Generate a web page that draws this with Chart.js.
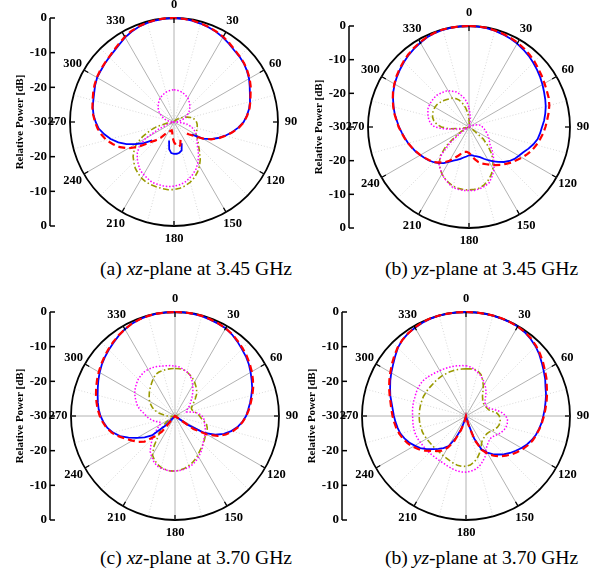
<!DOCTYPE html>
<html>
<head>
<meta charset="utf-8">
<script src="https://cdn.jsdelivr.net/npm/chart.js@4.4.1/dist/chart.umd.min.js"></script>
<style>
  body { margin: 0; background: #fff; }
  #page { position: relative; width: 591px; height: 578px; overflow: hidden; background: #fff; }
  canvas { position: absolute; }
  .caption {
    position: absolute;
    font-family: "Liberation Serif", "Times New Roman", serif;
    font-size: 19.6px;
    line-height: 22px;
    color: #000;
    white-space: nowrap;
  }
</style>
</head>
<body>
<div id="page">
  <canvas id="chart-a" width="300" height="250" style="left:0px;top:0px"></canvas>
  <canvas id="chart-b" width="291" height="250" style="left:300px;top:0px"></canvas>
  <canvas id="chart-c" width="300" height="262" style="left:0px;top:284px"></canvas>
  <canvas id="chart-d" width="291" height="262" style="left:300px;top:284px"></canvas>
  <div class="caption" style="left:100px;top:258px">(a) <i>xz</i>-plane at 3.45 GHz</div>
  <div class="caption" style="left:385px;top:258px">(b) <i>yz</i>-plane at 3.45 GHz</div>
  <div class="caption" style="left:100px;top:547px">(c) <i>xz</i>-plane at 3.70 GHz</div>
  <div class="caption" style="left:385px;top:547px">(b) <i>yz</i>-plane at 3.70 GHz</div>
</div>
<script>
// angles every 5 degrees, 0 at top, clockwise
const angles = [];
for (let a = 0; a < 360; a += 5) angles.push(a);

const angleTicks = [0, 30, 60, 90, 120, 150, 180, 210, 240, 270, 300, 330];
const dbTicks = [0, -10, -20, -30];

// relative power [dB], one value per 5 degrees (null = not drawn)
const xz345Blue = [0, -0.1, -0.3, -0.6, -0.9, -1.3, -1.8, -2.4, -3.0, -3.3, -3.7, -4.3,
  -5.0, -5.9, -6.7, -7.3, -8.0, -8.9, -9.9, -11.4, -13.0, -14.7, -16.5, -18.3,
  -20.4, -23.8, null, null, null, null, null, null, -23.5, -21.5, -21.0, -20.8,
  -20.8, -21.0, -22.0, -24.5, null, null, null, null, null, null, -21.8, -19.4,
  -17.3, -14.9, -12.9, -11.1, -9.6, -8.2, -7.4, -6.7, -6.2, -5.9, -5.5, -4.9,
  -4.4, -4.2, -3.9, -3.6, -3.2, -2.6, -1.8, -1.2, -0.7, -0.4, -0.2, -0.05];
const xz345Red = [0, -0.1, -0.2, -0.5, -0.8, -1.2, -1.6, -2.2, -2.8, -3.2, -3.6, -4.2,
  -4.8, -5.6, -6.5, -7.2, -7.9, -8.8, -9.8, -11.2, -12.9, -14.6, -16.3, -18.2,
  -20.5, -23.0, -24.5, -26.0, null, null, null, null, -24.5, -23.0, -22.8, -23.3,
  -24.2, -25.5, -27.0, -27.5, -27.3, -27.0, -26.5, -26.0, -24.0, -22.5, -20.8, -17.5,
  -14.8, -12.8, -11.3, -9.8, -8.8, -7.9, -7.2, -6.6, -6.1, -5.7, -5.2, -4.7,
  -4.3, -4.0, -3.8, -3.5, -3.0, -2.4, -1.6, -1.0, -0.6, -0.3, -0.1, 0];
const xz345Magenta = [-20.7, -20.8, -20.9, -21.1, -21.4, -21.7, -22.0, -22.5, -23.0, -23.5, -24.1, -24.7,
  -25.4, -26.1, -26.8, -27.6, -28.4, -29.2, -30, -27.5, -26.0, -25.0, -24.0, -23.2,
  -22.5, -22.0, -21.3, -20.5, -19.1, -17.7, -16.3, -15.0, -14.0, -13.1, -12.3, -11.8,
  -11.5, -11.3, -11.3, -11.4, -11.5, -12.0, -12.5, -13.0, -14.0, -15.0, -16.2, -17.8,
  -20.5, -25.0, -28.0, -30, -30, -30, -30, -29.2, -28.4, -27.6, -26.8, -26.1,
  -25.4, -24.7, -24.1, -23.5, -23.0, -22.5, -22.0, -21.7, -21.4, -21.1, -20.9, -20.8];
const xz345Olive = [-30, -30, -30, -30, -30, -30, -30, -30, -29.5, -29.0, -28.6, -28.2,
  -27.6, -26.8, -25.9, -25.0, -24.3, -23.8, -23.5, -23.3, -23.2, -23.1, -23.0, -22.9,
  -22.6, -21.8, -20.9, -19.9, -18.5, -16.8, -15.3, -14.0, -12.9, -12.0, -11.3, -10.8,
  -10.5, -10.4, -10.5, -10.6, -10.7, -10.9, -11.3, -11.9, -12.6, -13.6, -14.6, -16.0,
  -17.5, -20.0, -22.5, -24.8, -27.8, -30, -30, -30, -30, -30, -30, -30,
  -30, -30, -30, -30, -30, -30, -30, -30, -30, -30, -30, -30];

const yz345Blue = [0, -0.1, -0.2, -0.4, -0.7, -1.0, -1.4, -1.9, -2.4, -3.0, -3.6, -4.2,
  -4.8, -5.4, -5.9, -6.4, -7.0, -7.6, -8.3, -8.8, -9.3, -10.2, -11.2, -12.2,
  -12.9, -13.5, -14.3, -15.3, -16.5, -17.5, -18.6, -19.6, -20.5, -21.0, -21.3, -21.6,
  -21.6, -21.2, -20.8, -20.2, -19.6, -19.0, -18.0, -16.9, -16.0, -15.2, -14.5, -13.9,
  -13.3, -12.6, -12.0, -11.3, -10.7, -10.0, -9.2, -8.5, -7.6, -6.8, -6.0, -5.2,
  -4.5, -3.9, -3.3, -2.7, -2.1, -1.6, -1.1, -0.6, -0.3, -0.1, 0, 0];
const yz345Red = [0, 0, -0.1, -0.3, -0.5, -0.8, -1.1, -1.5, -2.0, -2.5, -3.1, -3.6,
  -4.1, -4.5, -4.8, -5.3, -6.0, -6.7, -7.3, -7.9, -8.6, -9.3, -10.0, -10.9,
  -11.8, -12.8, -13.6, -14.5, -15.3, -16.2, -17.0, -17.8, -18.4, -19.2, -20.3, -21.5,
  -22.3, -22.6, -22.5, -22.0, -21.0, -19.8, -18.4, -17.2, -16.2, -15.3, -14.6, -14.0,
  -13.3, -12.7, -12.0, -11.3, -10.6, -9.9, -9.1, -8.4, -7.5, -6.7, -5.9, -5.1,
  -4.4, -3.7, -3.1, -2.5, -1.9, -1.4, -0.9, -0.5, -0.2, 0, 0, 0];
const yz345Magenta = [-24.3, -26.2, -28.0, -29.5, -30, -30, -30, -30, -30, -30, -30, -30,
  -30, -29.5, -28.5, -27.5, -26.8, -26.2, -26.0, -25.6, -25.2, -24.8, -24.3, -23.7,
  -23.2, -22.6, -21.8, -20.3, -18.8, -17.0, -15.2, -13.8, -12.4, -11.8, -11.4, -11.1,
  -11.1, -11.1, -11.2, -11.4, -12.2, -13.0, -13.9, -15.0, -16.0, -18.5, -22.5, -26.7,
  -29.5, -30, -29.0, -27.5, -26.8, -23.0, -19.8, -18.6, -17.9, -17.4, -17.0, -16.6,
  -16.5, -16.5, -16.5, -16.6, -16.9, -17.2, -17.5, -18.3, -18.9, -20.0, -21.2, -22.5];
const yz345Olive = [-27.5, -29.0, -30, -30, -30, -30, -30, -30, -30, -30, -30, -30,
  -30, -30, -30, -30, -30, -30, -30, -30, -30, -30, -30, -30,
  -30, -28.5, -24.5, -22.0, -19.5, -17.6, -15.8, -14.4, -13.2, -12.3, -11.6, -11.4,
  -11.3, -11.3, -11.5, -11.8, -12.4, -13.1, -13.9, -15.0, -16.3, -18.0, -21.0, -25.0,
  -27.5, -29.5, -30, -29.5, -27.5, -24.0, -21.8, -20.4, -19.4, -18.8, -18.5, -18.3,
  -18.3, -18.4, -18.7, -19.0, -19.4, -19.8, -20.1, -20.7, -21.5, -22.8, -24.2, -25.8];

const xz370Blue = [0, 0, -0.1, -0.2, -0.4, -0.6, -0.8, -1.3, -2.0, -2.7, -3.3, -4.0,
  -4.8, -5.6, -6.3, -7.2, -8.0, -8.8, -9.5, -10.5, -11.7, -13.2, -15.0, -17.2,
  -20.3, -25.8, -30, -30, -30, -30, -30, -30, -30, -30, -30, -30,
  -30, -30, -30, -30, -30, -30, -30, -30, -30, -26.0, -21.3, -19.3,
  -17.4, -15.2, -13.1, -11.5, -10.2, -9.3, -8.5, -7.9, -7.4, -6.9, -6.3, -5.6,
  -4.9, -4.2, -3.6, -3.0, -2.4, -1.7, -1.1, -0.6, -0.3, -0.1, 0, 0];
const xz370Red = [0, 0, 0, -0.1, -0.3, -0.5, -0.8, -1.2, -1.8, -2.4, -3.0, -3.7,
  -4.4, -5.2, -6.0, -6.9, -7.8, -8.6, -9.4, -10.4, -11.5, -12.8, -14.4, -16.4,
  -19.3, -23.5, -30, -30, -30, -30, -30, -30, -30, -30, -30, -30,
  -30, -30, -30, -30, -30, -30, -30, -30, -24.0, -21.5, -18.5, -17.0,
  -15.8, -14.4, -12.8, -11.2, -10.0, -9.1, -8.3, -7.6, -7.0, -6.4, -5.8, -5.2,
  -4.6, -4.0, -3.4, -2.8, -2.2, -1.6, -1.1, -0.6, -0.3, -0.1, 0, 0];
const xz370Magenta = [-15.6, -15.8, -16.3, -16.8, -17.4, -18.5, -19.8, -21.0, -22.2, -23.3, -24.2, -25.0,
  -25.8, -26.3, -26.5, -25.5, -24.0, -23.0, -22.2, -21.7, -21.4, -21.2, -20.8, -20.3,
  -19.9, -19.6, -19.2, -18.6, -17.8, -17.1, -16.4, -15.7, -15.1, -14.7, -14.4, -14.2,
  -14.1, -14.1, -14.2, -14.4, -14.7, -15.5, -16.5, -17.5, -19.2, -20.8, -22.5, -23.8,
  -25.0, -25.5, -25.0, -24.0, -23.3, -22.4, -21.7, -21.0, -19.8, -18.8, -18.1, -17.3,
  -16.6, -16.0, -15.5, -15.0, -14.7, -14.5, -14.5, -14.6, -14.8, -15.1, -15.3, -15.4];
const xz370Olive = [-16.3, -16.3, -16.4, -16.8, -17.4, -18.0, -18.7, -19.5, -20.3, -21.2, -22.4, -23.5,
  -24.3, -24.8, -24.8, -24.5, -24.0, -23.4, -22.9, -22.4, -21.5, -20.6, -20.1, -19.8,
  -19.6, -19.4, -19.0, -18.6, -18.1, -17.6, -16.9, -16.2, -15.6, -15.1, -14.6, -14.3,
  -14.1, -14.1, -14.3, -14.6, -15.2, -16.0, -17.0, -19.5, -22.5, -24.0, -25.5, -27.0,
  -28.5, -29.5, -30, -30, -29.5, -28.8, -27.8, -26.8, -25.4, -24.2, -23.1, -22.3,
  -21.5, -20.9, -20.3, -19.6, -19.0, -18.3, -17.5, -16.8, -16.5, -16.4, -16.3, -16.3];

const yz370Blue = [0, 0, 0, 0, -0.1, -0.1, -0.2, -0.5, -1.0, -1.6, -2.4, -3.3,
  -4.1, -4.8, -5.6, -6.1, -6.7, -7.2, -7.7, -8.1, -8.6, -9.1, -9.8, -10.6,
  -11.5, -12.5, -13.4, -14.4, -15.5, -16.6, -17.8, -19.4, -23.0, -28.0, -30, -30,
  -30, -30, -30, -29.0, -26.0, -23.0, -20.0, -18.7, -17.6, -16.5, -15.1, -13.9,
  -12.9, -11.9, -11.1, -10.4, -10.0, -9.6, -9.2, -8.8, -8.2, -7.4, -6.7, -5.9,
  -5.1, -4.3, -3.3, -2.2, -1.4, -0.9, -0.6, -0.3, -0.1, 0, 0, 0];
const yz370Red = [0, 0, 0, 0, 0, -0.1, -0.2, -0.4, -0.8, -1.4, -2.1, -2.9,
  -3.7, -4.4, -5.2, -5.8, -6.4, -7.0, -7.5, -8.0, -8.5, -9.0, -9.5, -10.2,
  -11.0, -11.9, -12.8, -13.8, -14.8, -16.0, -17.4, -19.2, -22.5, -27.5, -30, -30,
  -30, -30, -30, -28.0, -25.5, -22.0, -19.5, -17.8, -16.8, -15.8, -14.5, -13.3,
  -12.3, -11.4, -10.7, -10.1, -9.6, -9.2, -8.8, -8.4, -7.9, -7.2, -6.4, -5.6,
  -4.8, -3.9, -3.0, -2.1, -1.4, -0.9, -0.5, -0.2, 0, 0, 0, 0];
const yz370Magenta = [-15.5, -15.8, -16.3, -17.0, -17.6, -18.4, -19.3, -20.1, -21.0, -22.0, -22.8, -23.3,
  -23.5, -23.4, -23.1, -22.2, -20.8, -19.5, -18.5, -18.0, -17.9, -18.0, -18.3, -18.8,
  -19.4, -20.0, -20.4, -20.4, -20.0, -19.5, -18.5, -17.0, -16.0, -15.0, -14.4, -14.0,
  -13.8, -13.8, -14.0, -14.3, -14.6, -14.9, -15.0, -15.1, -15.1, -15.0, -15.0, -14.9,
  -14.8, -14.6, -14.5, -14.5, -14.5, -14.6, -14.6, -14.5, -14.4, -14.3, -14.3, -14.1,
  -14.0, -13.9, -14.0, -14.2, -14.5, -14.7, -14.9, -15.0, -15.1, -15.2, -15.3, -15.4];
const yz370Olive = [-16.4, -16.3, -16.3, -16.6, -17.3, -18.6, -20.0, -21.5, -22.6, -23.2, -23.6, -23.8,
  -23.8, -23.7, -23.5, -23.2, -22.3, -21.0, -20.4, -20.1, -20.0, -20.1, -20.4, -20.9,
  -21.4, -21.9, -22.1, -22.1, -21.9, -21.7, -21.0, -19.8, -18.6, -17.4, -16.5, -15.8,
  -15.5, -15.4, -15.6, -15.9, -16.3, -16.6, -16.8, -17.0, -17.1, -17.1, -17.1, -17.0,
  -16.9, -16.7, -16.6, -16.6, -16.5, -16.5, -16.5, -16.5, -16.5, -16.5, -16.5, -16.5,
  -16.6, -16.6, -16.7, -16.7, -16.6, -16.6, -16.5, -16.5, -16.4, -16.4, -16.4, -16.4];

const serif = '"Liberation Serif", "Times New Roman", serif';

// draws the outer angle ticks, angle labels and the vertical dB axis
function framePlugin(p) {
  return {
    id: 'frame',
    afterDraw(chart) {
      const ctx = chart.ctx;
      const scale = chart.scales.r;
      const cx = scale.xCenter, cy = scale.yCenter, R = scale.drawingArea;
      ctx.save();
      ctx.strokeStyle = '#000';
      ctx.fillStyle = '#000';
      ctx.lineWidth = 1.3;
      ctx.font = 'bold 12.5px ' + serif;
      ctx.textAlign = 'center';
      ctx.textBaseline = 'middle';
      angleTicks.forEach(a => {
        const i = angles.indexOf(a);
        const o = scale.getPointPosition(i, R);
        const n = scale.getPointPosition(i, R - 5);
        ctx.beginPath();
        ctx.moveTo(o.x, o.y);
        ctx.lineTo(n.x, n.y);
        ctx.stroke();
        const lp = scale.getPointPosition(i, R + 13);
        ctx.fillText(String(a), lp.x, lp.y);
      });

      const ax = p.axisX - p.left;
      ctx.lineWidth = 1.5;
      ctx.beginPath();
      ctx.moveTo(ax, cy - R);
      ctx.lineTo(ax, cy + R);
      ctx.stroke();
      ctx.textAlign = 'right';
      ctx.font = 'bold 13px ' + serif;
      dbTicks.forEach(v => {
        const d = scale.getDistanceFromCenterForValue(v);
        const ys = d > 0 ? [cy - d, cy + d] : [cy];
        ys.forEach(y => {
          ctx.beginPath();
          ctx.moveTo(ax, y);
          ctx.lineTo(ax + 5, y);
          ctx.stroke();
          ctx.fillText(String(v), ax - 3, y);
        });
      });

      ctx.translate(ax - 30, cy);
      ctx.rotate(-Math.PI / 2);
      ctx.textAlign = 'center';
      ctx.font = 'bold 11px ' + serif;
      ctx.fillText('Relative Power [dB]', 0, 0);
      ctx.restore();
    }
  };
}

function makePanel(p, blue, red, magenta, olive) {
  const lx = p.cx - p.left, ly = p.cy - p.top;
  new Chart(document.getElementById(p.id), {
    type: 'radar',
    data: {
      labels: angles,
      datasets: [
        { data: red, borderColor: '#ff0000', borderWidth: 2.2, borderDash: [7, 4] },
        { data: blue, borderColor: '#0000ff', borderWidth: 1.8 },
        { data: magenta, borderColor: '#ff00ff', borderWidth: 1.5, borderDash: [1.5, 1.8] },
        { data: olive, borderColor: '#9a9a00', borderWidth: 1.6, borderDash: [6, 2.5, 1.5, 2.5] }
      ]
    },
    options: {
      responsive: false,
      animation: false,
      devicePixelRatio: 1,
      layout: {
        padding: { left: lx - p.r, top: ly - p.r, right: p.width - lx - p.r, bottom: p.height - ly - p.r }
      },
      plugins: { legend: { display: false }, tooltip: { enabled: false } },
      elements: {
        point: { radius: 0, hoverRadius: 0 },
        line: { tension: 0, fill: false }
      },
      datasets: { radar: { clip: false, spanGaps: false } },
      scales: {
        r: {
          min: -30,
          max: 0,
          ticks: { display: false, stepSize: 10 },
          pointLabels: { display: false },
          grid: {
            circular: true,
            color: c => (c.tick && c.tick.value === 0) ? '#000' : 'rgba(0,0,0,0)',
            lineWidth: c => (c.tick && c.tick.value === 0) ? 1.8 : 0
          },
          angleLines: {
            color: c => (c.index % 6 === 0) ? '#a9a9a9' : '#cfcfcf',
            lineWidth: c => {
              if (c.index % 3 !== 0) return 0;
              if (p.hideH && (c.index === 18 || c.index === 54)) return 0;
              return c.index % 6 === 0 ? 0.9 : 0.8;
            },
            borderDash: c => (c.index % 6 === 0) ? [] : [1, 2]
          }
        }
      }
    },
    plugins: [framePlugin(p)]
  });
}

makePanel({ id: 'chart-a', left: 0, top: 0, width: 300, height: 250, cx: 174, cy: 122, r: 104, axisX: 50, hideH: true },
  xz345Blue, xz345Red, xz345Magenta, xz345Olive);
makePanel({ id: 'chart-b', left: 300, top: 0, width: 291, height: 250, cx: 469, cy: 127, r: 101, axisX: 349, hideH: true },
  yz345Blue, yz345Red, yz345Magenta, yz345Olive);
makePanel({ id: 'chart-c', left: 0, top: 284, width: 300, height: 262, cx: 175, cy: 416, r: 104, axisX: 50 },
  xz370Blue, xz370Red, xz370Magenta, xz370Olive);
makePanel({ id: 'chart-d', left: 300, top: 284, width: 291, height: 262, cx: 466, cy: 416, r: 104, axisX: 342 },
  yz370Blue, yz370Red, yz370Magenta, yz370Olive);
</script>
</body>
</html>
